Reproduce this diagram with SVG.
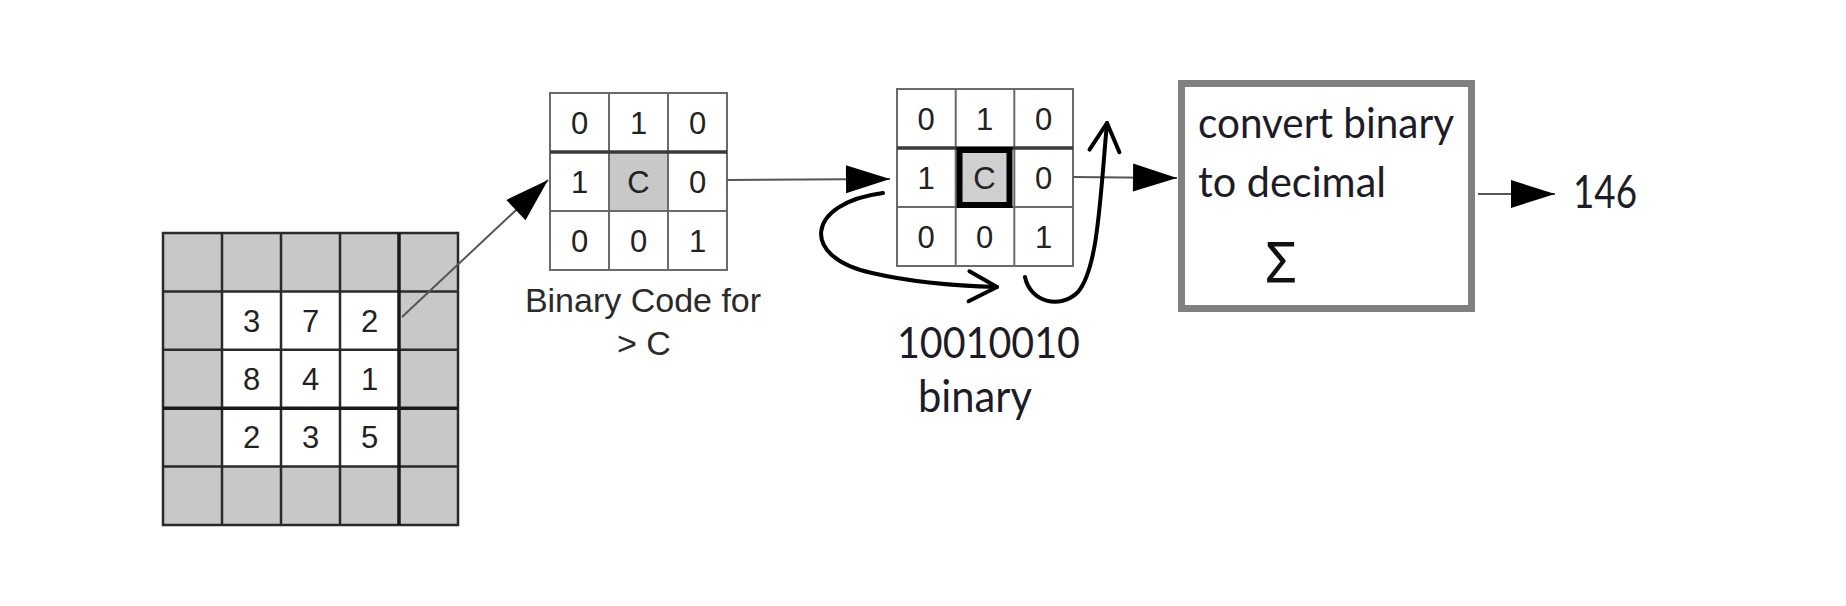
<svg xmlns="http://www.w3.org/2000/svg" width="1846" height="606" viewBox="0 0 1846 606">
<style>
.bg{fill:#fff}
.gcell{fill:#c8c8c8}
.wcell{fill:#fff}
.g1line{stroke:#2a2a2a;stroke-width:2.5;fill:none}
.g1thick{stroke:#1a1a1a;stroke-width:3.5;fill:none}
.g2line{stroke:#6a6a6a;stroke-width:2;fill:none}
.g2thick{stroke:#3a3a3a;stroke-width:3.5;fill:none}
.dig{font-family:"Liberation Sans",Arial,sans-serif;font-size:31px;fill:#222;text-anchor:middle}
.lab{font-family:"Liberation Sans",Arial,sans-serif;font-size:34px;fill:#2a2a2a;text-anchor:middle}
.cal{font-family:Lato,"Open Sans",sans-serif;fill:#1c1c28}
.conn{stroke:#555;stroke-width:2;fill:none}
.curve{stroke:#000;stroke-width:4;fill:none;stroke-linecap:round}
</style>
<defs>
<marker id="tri" markerUnits="userSpaceOnUse" markerWidth="46" markerHeight="30" refX="44" refY="14" orient="auto" overflow="visible">
<path d="M0,0 L44,14 L0,28 z" fill="#000"/>
</marker>
<marker id="chev" markerUnits="userSpaceOnUse" markerWidth="40" markerHeight="40" refX="0" refY="0" orient="auto" overflow="visible">
<path d="M-28,-15 L0,0 L-28,15" fill="none" stroke="#000" stroke-width="4" stroke-linecap="round" stroke-linejoin="round"/>
</marker>
</defs>
<rect class="bg" x="0" y="0" width="1846" height="606"/>

<g id="image-grid">
<rect class="gcell" x="163" y="233" width="295" height="292"/>
<rect class="wcell" x="222" y="291.4" width="177" height="175.2"/>
<path class="g1line" d="M163,233 H458 V525 H163 Z M222,233 V525 M281,233 V525 M340,233 V525 M163,291.4 H458 M163,349.8 H458 M163,466.6 H458"/>
<path class="g1thick" d="M399,233 V525 M163,408.2 H458"/>
<text class="dig" x="251.5" y="331.6">3</text>
<text class="dig" x="310.5" y="331.6">7</text>
<text class="dig" x="369.5" y="331.6">2</text>
<text class="dig" x="251.5" y="390">8</text>
<text class="dig" x="310.5" y="390">4</text>
<text class="dig" x="369.5" y="390">1</text>
<text class="dig" x="251.5" y="448.4">2</text>
<text class="dig" x="310.5" y="448.4">3</text>
<text class="dig" x="369.5" y="448.4">5</text>
</g>

<g id="binary-code">
<rect class="wcell" x="550" y="93" width="177" height="177"/>
<rect class="gcell" x="609" y="152" width="59" height="59"/>
<path class="g2line" d="M550,93 H727 V270 H550 Z M609,93 V270 M668,93 V270 M550,211 H727"/>
<path class="g2thick" d="M550,152 H727"/>
<text class="dig" x="579.5" y="133.5">0</text>
<text class="dig" x="638.5" y="133.5">1</text>
<text class="dig" x="697.5" y="133.5">0</text>
<text class="dig" x="579.5" y="192.5">1</text>
<text class="dig" x="638.5" y="192.5">C</text>
<text class="dig" x="697.5" y="192.5">0</text>
<text class="dig" x="579.5" y="251.5">0</text>
<text class="dig" x="638.5" y="251.5">0</text>
<text class="dig" x="697.5" y="251.5">1</text>
<text class="lab" x="643" y="312">Binary Code for</text>
<text class="lab" x="644" y="355">&gt; C</text>
</g>

<g id="binary-order">
<rect class="wcell" x="897" y="89" width="176" height="177"/>
<path class="g2line" d="M897,89 H1073 V266 H897 Z M955.7,89 V266 M1014.3,89 V266 M897,207 H1073"/>
<path class="g2thick" d="M897,148 H1073"/>
<rect x="959.5" y="150" width="50" height="55" fill="#cfcfcf" stroke="#000" stroke-width="6"/>
<text class="dig" x="926" y="129.5">0</text>
<text class="dig" x="984.5" y="129.5">1</text>
<text class="dig" x="1043.5" y="129.5">0</text>
<text class="dig" x="926" y="188.5">1</text>
<text class="dig" x="984.5" y="188.5">C</text>
<text class="dig" x="1043.5" y="188.5">0</text>
<text class="dig" x="926" y="247.5">0</text>
<text class="dig" x="984.5" y="247.5">0</text>
<text class="dig" x="1043.5" y="247.5">1</text>
<text class="cal" x="897" y="358" font-size="42" textLength="183" lengthAdjust="spacingAndGlyphs">10010010</text>
<text class="cal" x="918" y="412" font-size="44" textLength="114" lengthAdjust="spacingAndGlyphs">binary</text>
</g>

<g id="convert-box">
<rect x="1181.5" y="83.5" width="290" height="225" fill="#fff" stroke="#808080" stroke-width="7"/>
<text class="cal" x="1198" y="138" font-size="43" textLength="256" lengthAdjust="spacingAndGlyphs">convert binary</text>
<text class="cal" x="1198" y="197" font-size="43" textLength="188" lengthAdjust="spacingAndGlyphs">to decimal</text>
<text x="1265" y="283" font-family="'Noto Sans','DejaVu Sans',sans-serif" font-size="56" fill="#111" textLength="32" lengthAdjust="spacingAndGlyphs">Σ</text>
</g>

<g id="result">
<text class="cal" x="1573" y="208" font-size="46" textLength="64" lengthAdjust="spacingAndGlyphs">146</text>
</g>

<g id="connectors">
<line class="conn" x1="402" y1="317" x2="548" y2="180" marker-end="url(#tri)"/>
<line class="conn" x1="727" y1="180" x2="890" y2="179" marker-end="url(#tri)"/>
<line class="conn" x1="1073" y1="177" x2="1177" y2="178" marker-end="url(#tri)"/>
<line class="conn" x1="1478" y1="194" x2="1555" y2="194" marker-end="url(#tri)"/>
<path class="curve" d="M883,193 C805,203 800,258 872,273 C915,283 960,286 997,287" marker-end="url(#chev)"/>
<path class="curve" d="M1025,277 C1030,302 1060,310 1078,292 C1098,268 1100,200 1107,123" marker-end="url(#chev)"/>
</g>
</svg>
